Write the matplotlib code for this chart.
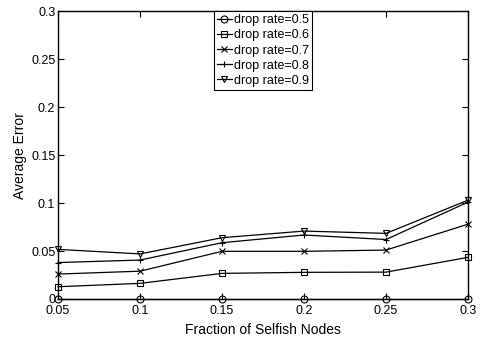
import matplotlib.pyplot as plt

plt.rcParams['font.family'] = ['Liberation Sans', 'DejaVu Sans']

# fraction of selfish nodes
frac = [0.05, 0.1, 0.15, 0.2, 0.25, 0.3]

# average error per drop rate
err_05 = [0, 0, 0, 0, 0, 0]
err_06 = [0.0128, 0.0163, 0.0267, 0.0278, 0.028, 0.0434]
err_07 = [0.026, 0.029, 0.0497, 0.0497, 0.051, 0.078]
err_08 = [0.038, 0.0406, 0.0587, 0.0667, 0.062, 0.101]
err_09 = [0.0517, 0.047, 0.0639, 0.0708, 0.0684, 0.103]

labels = ['drop rate=0.5', 'drop rate=0.6', 'drop rate=0.7',
          'drop rate=0.8', 'drop rate=0.9']
markers = ['o', 's', 'x', '+', 'v']
series = [err_05, err_06, err_07, err_08, err_09]

fig = plt.figure(figsize=(4.8, 3.39), dpi=100)
ax = fig.add_axes([0.121, 0.118, 0.854, 0.849])

for y, m, lab in zip(series, markers, labels):
    ax.plot(frac, y, color='k', lw=0.9, marker=m, markersize=5,
            markerfacecolor='none', markeredgecolor='k', markeredgewidth=0.8,
            label=lab, clip_on=False)

ax.set_xlim(0.05, 0.3)
ax.set_ylim(0, 0.3)
ax.set_xticks(frac)
ax.set_xticklabels(['0.05', '0.1', '0.15', '0.2', '0.25', '0.3'])
ax.set_yticks([0, 0.05, 0.1, 0.15, 0.2, 0.25, 0.3])
ax.set_yticklabels(['0', '0.05', '0.1', '0.15', '0.2', '0.25', '0.3'])
ax.tick_params(direction='in', labelsize=9, length=4, width=0.8,
               top=True, right=True, pad=2)
ax.tick_params(axis='x', pad=4)
for s in ax.spines.values():
    s.set_linewidth(1.0)

ax.set_xlabel('Fraction of Selfish Nodes', fontsize=10, labelpad=5)
ax.set_ylabel('Average Error', fontsize=10, labelpad=3)

leg = ax.legend(loc='upper center', bbox_to_anchor=(0.5, 1.0), fontsize=9,
                handlelength=1.2, handletextpad=0.2, borderpad=0.25,
                labelspacing=0.25, borderaxespad=0, fancybox=False,
                framealpha=1, edgecolor='k')
leg.get_frame().set_linewidth(0.8)

fig.savefig('out.png', dpi=100)
